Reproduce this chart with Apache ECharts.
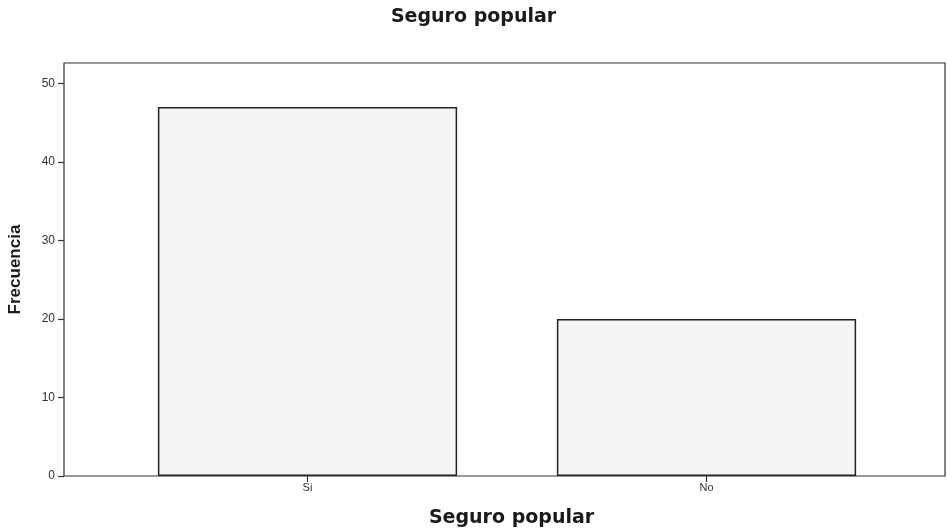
<!DOCTYPE html>
<html><head><meta charset="utf-8">
<script src="https://cdn.jsdelivr.net/npm/echarts@6/dist/echarts.min.js"></script>
<style>html,body{margin:0;padding:0;background:#fff}#c{width:947px;height:529px}</style>
</head><body><div id="c"></div>
<script>
const categories = ['Si', 'No'];
const frecuencia = [47, 20];
const yTicks = [0, 10, 20, 30, 40, 50];
const titleText = 'Seguro popular';
const xName = 'Seguro popular';
const yName = 'Frecuencia';

const chart = echarts.init(document.getElementById('c'));
const yMax = 52.6;
const boldFont = { fontFamily: 'DejaVu Sans', fontWeight: 'bold', fontSize: 19, color: '#1a1a1a' };
chart.setOption({
  backgroundColor: '#fff',
  animation: false,
  title: { text: titleText, left: 'center', top: 3, textStyle: boldFont },
  grid: [
    { left: 64, right: 2, top: 63, bottom: 53, outerBoundsMode: 'none', containLabel: false,
      show: true, borderColor: '#333', borderWidth: 1.2, backgroundColor: 'transparent' },
    { left: 108, right: 41, top: 63, bottom: 53, outerBoundsMode: 'none', containLabel: false }
  ],
  xAxis: [
    { type: 'category', gridIndex: 0, data: categories, axisLine: { show: false }, axisTick: { show: false }, axisLabel: { show: false },
      name: xName, nameLocation: 'middle', nameGap: 33, nameTextStyle: Object.assign({ padding: [0, 0, 0, 14] }, boldFont) },
    { type: 'category', gridIndex: 1, data: categories, axisLine: { show: false },
      axisTick: { show: true, alignWithLabel: true, length: 6, lineStyle: { color: '#333', width: 1.2 } },
      axisLabel: { margin: 6, fontFamily: 'Liberation Sans, Arial', fontSize: 11, color: '#333' } }
  ],
  yAxis: [
    { type: 'value', gridIndex: 0, min: 0, max: yMax, interval: 10,
      axisLine: { show: false }, splitLine: { show: false },
      axisTick: { show: true, length: 6, customValues: yTicks, lineStyle: { color: '#333', width: 1.2 } },
      axisLabel: { margin: 9, fontFamily: 'Liberation Sans, Arial', fontSize: 12, color: '#333', customValues: yTicks },
      name: yName, nameLocation: 'middle', nameGap: 40, nameRotate: 90,
      nameTextStyle: { fontFamily: 'Liberation Sans Narrow, Arial Narrow, Liberation Sans', fontWeight: 'bold', fontSize: 17, color: '#1a1a1a' } },
    { type: 'value', gridIndex: 1, min: 0, max: yMax, show: false, splitLine: { show: false } }
  ],
  series: [{
    type: 'bar', xAxisIndex: 1, yAxisIndex: 1, data: frecuencia, barWidth: '75%',
    itemStyle: { color: '#f5f5f5', borderColor: '#222', borderWidth: 1.5 }
  }]
});
</script></body></html>
